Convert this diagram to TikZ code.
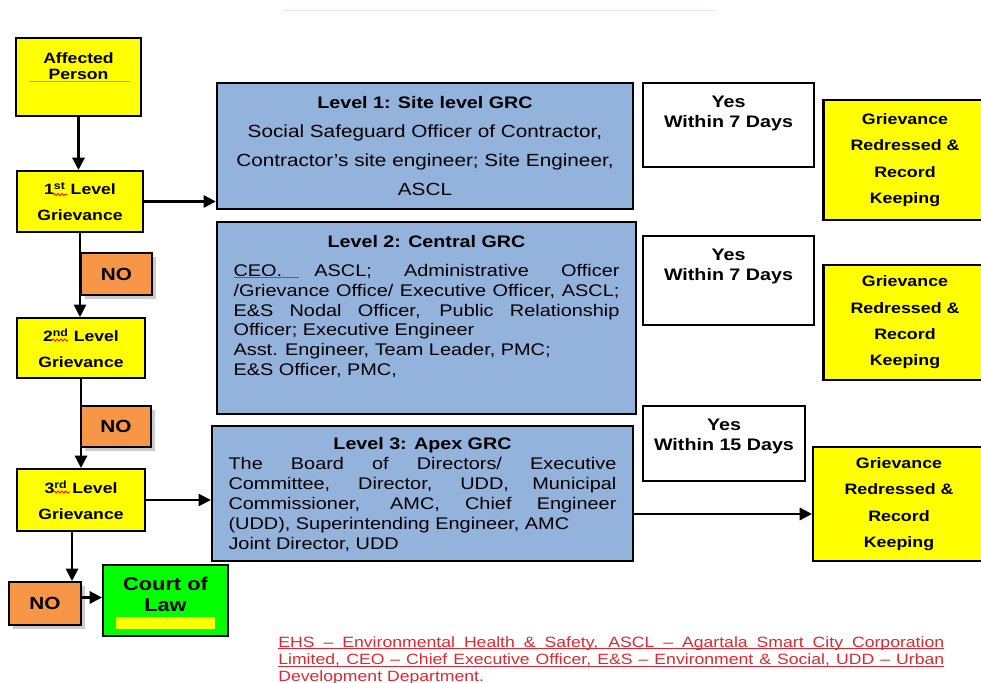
\documentclass[tikz,border=0pt]{standalone}
\usepackage{fontspec}
\setmainfont{Liberation Sans}[FakeStretch=1.18]
\usetikzlibrary{positioning,calc,shadows,arrows.meta,decorations.pathmorphing}
\definecolor{grvyellow}{HTML}{FFFF00}
\definecolor{noorange}{HTML}{F79646}
\definecolor{grcblue}{HTML}{93B3DC}
\definecolor{courtgreen}{HTML}{00FF00}
\definecolor{notered}{HTML}{DC2832}
% one justified, underlined line of the glossary
\newcommand{\noteline}[1]{\makebox[13.32cm][s]{#1}\llap{\rule[-1.2pt]{13.32cm}{0.5pt}}}
\begin{document}
\begin{tikzpicture}
[x=0.02cm, y=-0.02cm,
 every node/.style={execute at begin node={\spaceskip=0pt\xspaceskip=0pt\relax}},
 box/.style={draw, line width=1.2pt, inner sep=0pt},
 grv box/.style={box, fill=grvyellow, align=center, font=\bfseries\fontsize{8.5}{14.7}\selectfont},
 grv text/.style={inner sep=0pt, align=center, font=\bfseries\fontsize{8.5}{9.6}\selectfont},
 no box/.style={box, fill=noorange, font=\bfseries\fontsize{10}{12}\selectfont,
   drop shadow={shadow xshift=2pt, shadow yshift=-2pt, fill=black, opacity=0.2}},
 grc box/.style={box, fill=grcblue, line width=1.4pt},
 grc title/.style={inner sep=0pt, font=\bfseries\fontsize{9.5}{11.3}\selectfont},
 grc text/.style={inner sep=0pt, align=justify, font=\fontsize{9.6}{11.3}\selectfont},
 yes box/.style={box, fill=white},
 yes text/.style={inner sep=0pt, align=center, font=\bfseries\fontsize{9.5}{11.3}\selectfont},
 done box/.style={box, fill=grvyellow, align=center, font=\bfseries\fontsize{8.6}{15}\selectfont},
 court text/.style={inner sep=0pt, align=center, font=\bfseries\fontsize{10.5}{12}\selectfont},
 spell mark/.style={red, line width=0.5pt, decorate, decoration={snake, amplitude=0.6pt, segment length=2.2pt}},
 arrow/.style={-{Triangle[length=7pt, width=7pt]}, line width=1.3pt}]
\useasboundingbox (0,0) rectangle (981,683);
\draw[red!12, line width=0.5pt] (283,10) -- (716,10);

% left column
\node[grv box, minimum width=2.5cm, minimum height=1.56cm] (person) at (78.5,77) {};
\node[grv text, below=0.3cm of person.north] (personlbl) {Affected\\Person};
\draw[black!40, line width=0.4pt] ($(person.center)+(-49,4)$) -- ($(person.center)+(51,4)$);
\node[grv box, minimum width=2.52cm, minimum height=1.22cm] (first) at (80,201.5) {1\textsuperscript{st} Level\\Grievance};
\node[no box, minimum width=1.42cm, minimum height=0.84cm] (noone) at (116.5,274) {NO};
\node[grv box, minimum width=2.56cm, minimum height=1.2cm] (second) at (81,348) {2\textsuperscript{nd} Level\\Grievance};
\node[no box, minimum width=1.4cm, minimum height=0.82cm] (notwo) at (116,426.5) {NO};
\node[grv box, minimum width=2.56cm, minimum height=1.24cm] (third) at (81,500) {3\textsuperscript{rd} Level\\Grievance};
\node[no box, minimum width=1.44cm, minimum height=0.86cm] (nothree) at (45,603.5) {NO};
\node[box, fill=courtgreen, minimum width=2.5cm, minimum height=1.42cm] (court) at (165.5,600.5) {};
\node[court text, below=0.25cm of court.north] (courtlbl) {Court of\\Law};
\node[fill=grvyellow, inner sep=0pt, minimum width=1.98cm, minimum height=0.24cm, above=0.16cm of court.south] (courtbar) {};
\draw[spell mark] ($(first.center)+(-27,-7)$) -- ($(first.center)+(-13,-7)$);
\draw[spell mark] ($(second.center)+(-29,-8)$) -- ($(second.center)+(-13,-8)$);
\draw[spell mark] ($(third.center)+(-28,-8)$) -- ($(third.center)+(-11,-8)$);

% committees
\node[grc box, minimum width=8.32cm, minimum height=2.52cm, align=center, font=\fontsize{10}{16.5}\selectfont] (lvlone) at (425,146)
  {{\bfseries\fontsize{9.5}{16.5}\selectfont Level 1: Site level GRC}\\Social Safeguard Officer of Contractor,\\Contractor’s site engineer; Site Engineer,\\ASCL};
\node[grc box, minimum width=8.38cm, minimum height=3.84cm] (lvltwo) at (426.5,318) {};
\node[grc title, below=0.28cm of lvltwo.north] (lvltwotitle) {Level 2: Central GRC};
\node[grc text, text width=7.72cm, below=0.32cm of lvltwotitle] (lvltwotext)
  {CEO, ASCL; Administrative Officer\linebreak /Grievance Office/ Executive Officer, ASCL;\linebreak
   E\&S Nodal Officer, Public Relationship\linebreak Officer; Executive Engineer\\
   Asst. Engineer, Team Leader, PMC;\\E\&S Officer, PMC,};
\draw[blue!70, line width=0.4pt, double=grcblue, double distance=0.6pt] ($(lvltwotext.north west)+(1,13)$) -- ($(lvltwotext.north west)+(66,13)$);
\node[grc box, minimum width=8.42cm, minimum height=2.7cm] (lvlthree) at (422.5,493.5) {};
\node[grc title, below=0.25cm of lvlthree.north] (lvlthreetitle) {Level 3: Apex GRC};
\node[grc text, text width=7.76cm, below=0.07cm of lvlthreetitle] (lvlthreetext)
  {The Board of Directors/ Executive\linebreak Committee, Director, UDD, Municipal\linebreak
   Commissioner, AMC, Chief Engineer\linebreak (UDD), Superintending Engineer, AMC\\Joint Director, UDD};

% outcomes
\node[yes box, minimum width=3.42cm, minimum height=1.68cm] (yesone) at (728.5,125) {};
\node[yes text, below=0.27cm of yesone.north] (yesonelbl) {Yes\\Within 7 Days};
\node[yes box, minimum width=3.42cm, minimum height=1.78cm] (yestwo) at (728.5,280.5) {};
\node[yes text, below=0.27cm of yestwo.north] (yestwolbl) {Yes\\Within 7 Days};
\node[yes box, minimum width=3.24cm, minimum height=1.5cm] (yesthree) at (724,443.5) {};
\node[yes text, below=0.27cm of yesthree.north] (yesthreelbl) {Yes\\Within 15 Days};
\node[done box, minimum width=3.26cm, minimum height=2.4cm] (doneone) at (905,160) {Grievance\\Redressed \&\\Record\\Keeping};
\node[done box, minimum width=3.26cm, minimum height=2.3cm] (donetwo) at (905,322.5) {Grievance\\Redressed \&\\Record\\Keeping};
\node[done box, minimum width=3.44cm, minimum height=2.28cm] (donethree) at (899,504) {Grievance\\Redressed \&\\Record\\Keeping};

% glossary
\node[inner sep=0pt, text width=13.32cm, align=justify, text=notered, font=\fontsize{8.5}{9.9}\selectfont, anchor=north west] (glossary) at (278,636)
  {\noteline{EHS – Environmental Health \& Safety, ASCL – Agartala Smart City Corporation}\\
   \noteline{Limited, CEO – Chief Executive Officer, E\&S – Environment \& Social, UDD – Urban}\\
   Development Department.};

\draw[arrow] (person) -- (person |- first.north);
\draw[arrow] (first) -- (first |- second.north);
\draw[arrow] (second) -- (second |- third.north);
\draw[arrow] ([xshift=-0.18cm]third.south) -- ([xshift=-0.18cm]third.south |- nothree.north);
\draw[arrow] ([yshift=0.12cm]nothree.east) -- ([yshift=0.12cm]nothree.east -| court.west);
\draw[arrow] (first.east) -- (first.east -| lvlone.west);
\draw[arrow] (third.east) -- (third.east -| lvlthree.west);
\draw[arrow] ([yshift=-0.41cm]lvlthree.east) -- ([yshift=-0.41cm]lvlthree.east -| donethree.west);
\end{tikzpicture}
\end{document}
